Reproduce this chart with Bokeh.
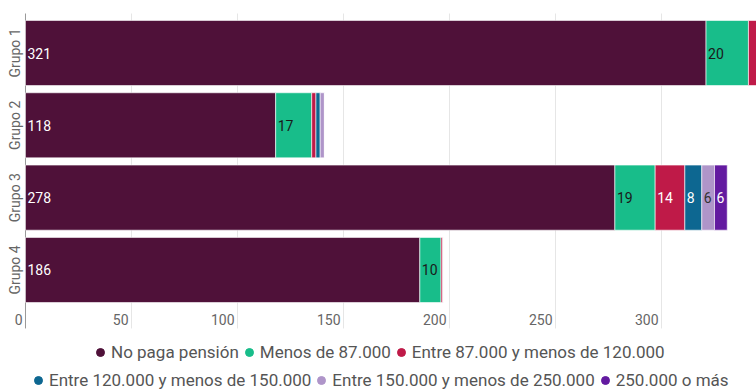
import math
from bokeh.plotting import figure
from bokeh.models import ColumnDataSource, Range1d, Legend, LegendItem
from bokeh.core.properties import value
from bokeh.embed import file_html
from bokeh.resources import INLINE

groups = ["Grupo 1", "Grupo 2", "Grupo 3", "Grupo 4"]
series = ["No paga pensión", "Menos de 87.000", "Entre 87.000 y menos de 120.000",
          "Entre 120.000 y menos de 150.000", "Entre 150.000 y menos de 250.000", "250.000 o más"]
no_paga = [321, 118, 278, 186]
menos_87 = [20, 17, 19, 10]
e87_120 = [9, 2, 14, 1]
e120_150 = [5, 2, 8, 0]
e150_250 = [4, 2, 6, 0]
mas_250 = [3, 0, 6, 0]
xticks = [0, 50, 100, 150, 200, 250, 300]

values = [no_paga, menos_87, e87_120, e120_150, e150_250, mas_250]
colors = ["#4f1139", "#18bd8a", "#bf1a48", "#0d6791", "#af95c9", "#631aa0"]
label_colors = ["#ffffff", "#1a1a1a", "#ffffff", "#ffffff", "#333333", "#ffffff"]

FONT = "Roboto"
X_LEFT, X_RIGHT, X_GROUPLABEL = -11.79, 344.8, -4.95
Y_TOP, Y_GRID_TOP, Y_GRID_BOTTOM, Y_BOTTOM, Y_TICKLABEL = 0.274, 0.454, 4.809, 5.667, 4.685

p = figure(width=756, height=390, output_backend="svg", toolbar_location=None,
           x_range=Range1d(X_LEFT, X_RIGHT), y_range=Range1d(Y_BOTTOM, Y_TOP),
           x_axis_location=None, y_axis_location=None,
           min_border=0, min_border_top=0, min_border_right=0,
           min_border_left=0, min_border_bottom=0)
p.outline_line_color = None
p.grid.visible = False

n = len(xticks) - 1
p.segment(x0=xticks[1:], x1=xticks[1:], y0=[Y_GRID_TOP] * n, y1=[Y_GRID_BOTTOM] * n,
          line_color="#e6e6e6", line_width=1)
p.segment(x0=[0], x1=[0], y0=[Y_GRID_TOP], y1=[Y_GRID_BOTTOM],
          line_color="#999999", line_width=1)

ypos = list(range(1, len(groups) + 1))
p.text(x=[X_GROUPLABEL] * len(groups), y=ypos, text=groups, angle=math.pi / 2,
       text_align="center", text_baseline="middle", text_color="#666666",
       text_font=value(FONT), text_font_size="14px")

left = [0] * len(groups)
lx, ly, lt, lc = [], [], [], []
for vals, col, lcol in zip(values, colors, label_colors):
    right = [l + v for l, v in zip(left, vals)]
    src = ColumnDataSource(dict(y=ypos, left=left, right=right))
    p.hbar(y="y", left="left", right="right", height=0.9, source=src,
           fill_color=col, line_color="white", line_width=0.6)
    for y, l, v in zip(ypos, left, vals):
        # label only segments wide enough and fully inside the plotting area
        if v >= 5 and l + v <= X_RIGHT:
            lx.append(l); ly.append(y); lt.append(str(v)); lc.append(lcol)
    left = right

p.text(x=lx, y=ly, text=lt, text_color=lc, x_offset=2, text_baseline="middle",
       text_align="left", text_font=value(FONT), text_font_size="14px")

p.text(x=xticks, y=[Y_TICKLABEL] * len(xticks), text=[str(t) for t in xticks],
       text_align="right", text_baseline="middle", x_offset=-3,
       text_color="#666666", text_font=value(FONT), text_font_size="14px")

nan = float("nan")
dots = []
for s, col in zip(series, colors):
    r = p.scatter(x=[nan], y=[nan], marker="circle", size=8, fill_color=col, line_color=col)
    dots.append(LegendItem(label=s, renderers=[r]))

def mk_legend(items, loc):
    return Legend(items=items, orientation="horizontal", location=loc,
                  label_text_font=FONT, label_text_font_size="17px",
                  label_text_color="#555555", glyph_width=20, glyph_height=20,
                  label_standoff=1, spacing=0, padding=0, margin=0,
                  border_line_color=None, background_fill_alpha=0)

p.add_layout(mk_legend(dots[:3], (90, 28)), "center")
p.add_layout(mk_legend(dots[3:], (28, 0)), "center")

open("out.html", "w").write(file_html(p, INLINE))
